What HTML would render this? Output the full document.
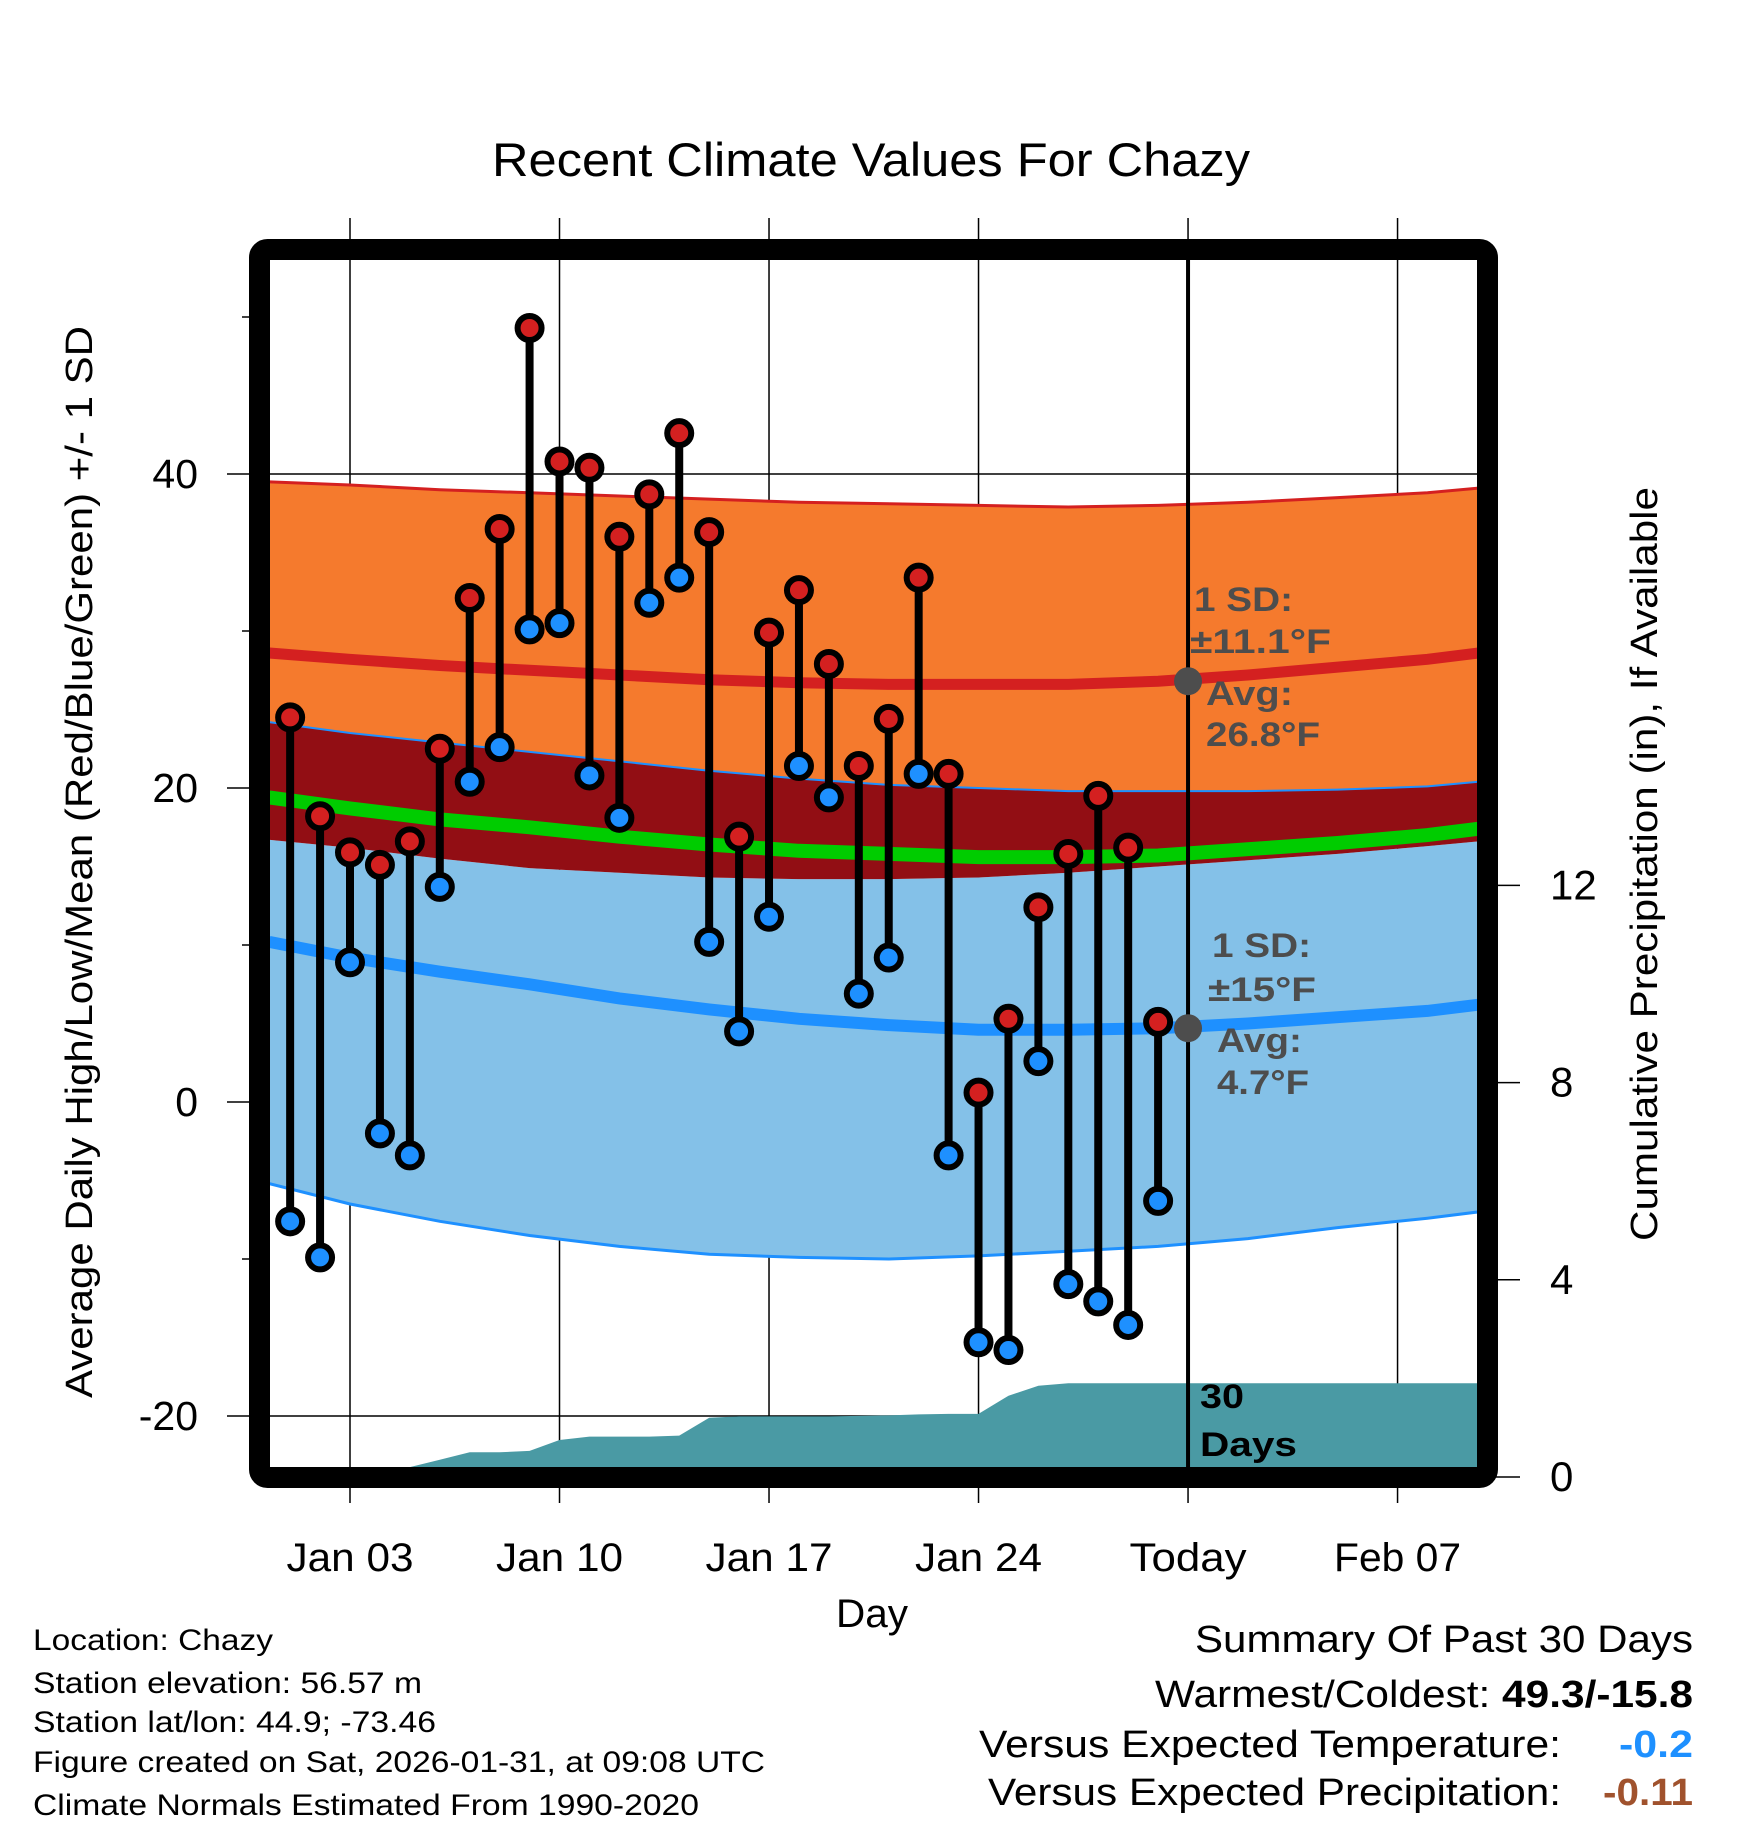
<!DOCTYPE html>
<html><head><meta charset="utf-8"><style>
body{margin:0;background:#fff}
svg{display:block;font-family:"Liberation Sans",Arial,sans-serif}
</style></head><body>
<svg id="chart" width="1748" height="1828" viewBox="0 0 1748 1828" xmlns="http://www.w3.org/2000/svg">
<defs><clipPath id="plotclip"><rect x="270" y="260" width="1207" height="1207"/></clipPath></defs>
<rect width="1748" height="1828" fill="#fff"/>
<text x="492" y="176" font-size="47" textLength="758" lengthAdjust="spacingAndGlyphs">Recent Climate Values For Chazy</text>
<g id="grid"></g>
<g id="fills" clip-path="url(#plotclip)"></g>
<g id="marks"></g>
<rect x="259.5" y="249.5" width="1228" height="1228" rx="8" fill="none" stroke="#000" stroke-width="21"/>
<g id="labels"></g>
<text transform="translate(92,1398) rotate(-90)" font-size="38" textLength="1072" lengthAdjust="spacingAndGlyphs">Average Daily High/Low/Mean (Red/Blue/Green) +/- 1 SD</text>
<text transform="translate(1657,1241) rotate(-90)" font-size="38" textLength="754" lengthAdjust="spacingAndGlyphs">Cumulative Precipitation (in), If Available</text>
<text x="836" y="1627" font-size="40" textLength="72" lengthAdjust="spacingAndGlyphs">Day</text>
<g font-size="30">
<text x="33" y="1650" textLength="240" lengthAdjust="spacingAndGlyphs">Location: Chazy</text>
<text x="33" y="1693" textLength="389" lengthAdjust="spacingAndGlyphs">Station elevation: 56.57 m</text>
<text x="33" y="1732" textLength="403" lengthAdjust="spacingAndGlyphs">Station lat/lon: 44.9; -73.46</text>
<text x="33" y="1772" textLength="732" lengthAdjust="spacingAndGlyphs">Figure created on Sat, 2026-01-31, at 09:08 UTC</text>
<text x="33" y="1815" textLength="666" lengthAdjust="spacingAndGlyphs">Climate Normals Estimated From 1990-2020</text>
</g>
<g font-size="38">
<text x="1195" y="1652" textLength="498" lengthAdjust="spacingAndGlyphs">Summary Of Past 30 Days</text>
<text x="1155" y="1707" textLength="538" lengthAdjust="spacingAndGlyphs">Warmest/Coldest: <tspan font-weight="bold">49.3/-15.8</tspan></text>
<text x="979" y="1757" textLength="582" lengthAdjust="spacingAndGlyphs">Versus Expected Temperature:</text>
<text x="1619" y="1757" font-weight="bold" fill="#1e90ff" textLength="74" lengthAdjust="spacingAndGlyphs">-0.2</text>
<text x="988" y="1805" textLength="573" lengthAdjust="spacingAndGlyphs">Versus Expected Precipitation:</text>
<text x="1603" y="1805" font-weight="bold" fill="#a0522d" textLength="90" lengthAdjust="spacingAndGlyphs">-0.11</text>
</g>
<g font-size="34" font-weight="bold" fill="#4d4d4d" lengthAdjust="spacingAndGlyphs">
<text x="1194" y="611" textLength="99" lengthAdjust="spacingAndGlyphs">1 SD:</text>
<text x="1190" y="653" textLength="141" lengthAdjust="spacingAndGlyphs">±11.1°F</text>
<text x="1206" y="705" textLength="87" lengthAdjust="spacingAndGlyphs">Avg:</text>
<text x="1206" y="746" textLength="114" lengthAdjust="spacingAndGlyphs">26.8°F</text>
<text x="1212" y="957" textLength="99" lengthAdjust="spacingAndGlyphs">1 SD:</text>
<text x="1208" y="1001" textLength="108" lengthAdjust="spacingAndGlyphs">±15°F</text>
<text x="1217" y="1052" textLength="85" lengthAdjust="spacingAndGlyphs">Avg:</text>
<text x="1217" y="1094" textLength="92" lengthAdjust="spacingAndGlyphs">4.7°F</text>
<text x="1200" y="1408" fill="#000" textLength="44" lengthAdjust="spacingAndGlyphs">30</text>
<text x="1200" y="1456" fill="#000" textLength="97" lengthAdjust="spacingAndGlyphs">Days</text>
</g>
<script>
const days = [1,2,3,4,5,6,7,8,9,10,11,12,13,14,15,16,17,18,19,20,21,22,23,24,25,26,27,28,29,30];
const highs = [24.5,18.2,15.9,15.1,16.6,22.5,32.1,36.5,49.3,40.8,40.4,36.0,38.7,42.6,36.3,16.9,29.9,32.6,27.9,21.4,24.4,33.4,20.9,0.6,5.3,12.4,15.8,19.5,16.2,5.1];
const lows = [-7.6,-9.9,8.9,-2.0,-3.4,13.7,20.4,22.6,30.1,30.5,20.8,18.1,31.8,33.4,10.2,4.5,11.8,21.4,19.4,6.9,9.2,20.9,-3.4,-15.3,-15.8,2.6,-11.6,-12.7,-14.2,-6.3];
const normDays = [0.3,3,6,9,12,15,18,21,24,27,30,33,36,39,40.7];
const highAvg = [28.6,28.2,27.8,27.5,27.2,26.9,26.7,26.6,26.6,26.6,26.8,27.2,27.7,28.2,28.6];
const highUp = [39.5,39.3,39.0,38.8,38.6,38.4,38.2,38.1,38.0,37.9,38.0,38.2,38.5,38.8,39.1];
const highLo = [24.2,23.5,22.9,22.3,21.7,21.1,20.6,20.2,20.0,19.8,19.8,19.8,19.9,20.1,20.4];
const meanAvg = [19.4,18.7,18.0,17.5,16.9,16.4,16.0,15.8,15.6,15.6,15.7,16.1,16.5,17.0,17.4];
const lowUp = [16.7,16.2,15.5,14.9,14.6,14.3,14.2,14.2,14.3,14.6,15.0,15.4,15.8,16.3,16.6];
const lowAvg = [10.2,9.2,8.3,7.5,6.6,5.9,5.3,4.9,4.6,4.6,4.7,5.0,5.4,5.8,6.2];
const lowDn = [-5.2,-6.5,-7.6,-8.5,-9.2,-9.7,-9.9,-10.0,-9.8,-9.5,-9.2,-8.7,-8.0,-7.4,-7.0];
const precipDays = [0.3,1,2,3,4,5,6,7,8,9,10,11,12,13,14,15,16,17,18,19,20,21,22,23,24,25,26,27,28,29,30,31,40.7];
const precipCum = [0,0,0,0,0,0.2,0.35,0.5,0.5,0.53,0.75,0.82,0.82,0.82,0.84,1.2,1.23,1.23,1.23,1.23,1.24,1.25,1.27,1.28,1.28,1.65,1.85,1.9,1.9,1.9,1.9,1.9,1.9];
const xTickDays = [3,10,17,24,31,38];
const xTickLabels = ["Jan 03","Jan 10","Jan 17","Jan 24","Today","Feb 07"];
const yTicks = [40,20,0,-20];
const yMinor = [50,30,10,-10];
const y2Ticks = [0,4,8,12];
const todayDay = 31;
const todayHigh = 26.8, todayLow = 4.7;

const NS="http://www.w3.org/2000/svg";
const X = d => 350 + (d-3)*29.93;
const Y = v => 1102 - v*15.7;
const Y2 = p => 1477 - p*49.3;
function el(tag, attrs, parent){const e=document.createElementNS(NS,tag);for(const k in attrs)e.setAttribute(k,attrs[k]);parent.appendChild(e);return e;}
const grid=document.getElementById('grid'), fills=document.getElementById('fills'), marks=document.getElementById('marks'), labels=document.getElementById('labels');

xTickDays.forEach((d,i)=>{
  const l=el('line',{x1:X(d),x2:X(d),y1:218,y2:1503,stroke:'#000','stroke-width':1.5},grid);
  
  
  const w = xTickLabels[i]==='Today' ? 117 : 127;
  const t=el('text',{x:X(d)-w/2,y:1571,'font-size':40,textLength:w,lengthAdjust:'spacingAndGlyphs'},labels);
  t.textContent=xTickLabels[i];
  
  
});
yTicks.forEach(v=>{
  const l=el('line',{x1:227,x2:1477,y1:Y(v),y2:Y(v),stroke:'#000','stroke-width':1.5},grid);
  
  
  const t=el('text',{x:198,y:Y(v)+14,'font-size':41,'text-anchor':'end'},labels);
  t.textContent=String(v);
  
  
});
yMinor.forEach(v=>{
  const l=el('line',{x1:242,x2:270,y1:Y(v),y2:Y(v),stroke:'#000','stroke-width':1.5},grid);
  
  
});
y2Ticks.forEach(p=>{
  const l=el('line',{x1:1487,x2:1520,y1:Y2(p),y2:Y2(p),stroke:'#000','stroke-width':1.5},grid);
  
  
  const t=el('text',{x:1550,y:Y2(p)+14,'font-size':42},labels);
  t.textContent=String(p);
  
  
});

function linePts(xs,vs,fy){return xs.map((d,i)=>X(d).toFixed(1)+','+fy(vs[i]).toFixed(1));}
function band(lo,hi,fill,name){
  const pts=linePts(normDays,hi,Y).concat(linePts(normDays,lo,Y).reverse());
  const p=el('polygon',{points:pts.join(' '),fill:fill},fills);
  
  
}
function line(vs,color,w,name){
  const p=el('polyline',{points:linePts(normDays,vs,Y).join(' '),fill:'none',stroke:color,'stroke-width':w},fills);
  
  
}
band(lowDn,lowUp,'#84c1e8','low-sd-band');
band(lowUp,highLo,'#920e14','mid-band');
band(highLo,highUp,'#f57a2d','high-sd-band');
line(highUp,'#d42020',3,'high-plus-sd-line');
line(highAvg,'#d42020',11,'avg-high-line');
line(highLo,'#1e90ff',2,'high-minus-sd-line');
line(meanAvg,'#00cc00',14,'avg-mean-line');
line(lowAvg,'#1e90ff',12,'avg-low-line');
line(lowDn,'#1e90ff',3,'low-minus-sd-line');

const pp=linePts(precipDays,precipCum,Y2);
pp.push(X(precipDays[precipDays.length-1]).toFixed(1)+',1480',X(precipDays[0]).toFixed(1)+',1480');
const pr=el('polygon',{points:pp.join(' '),fill:'#4a9aa4'},fills);



const tl=el('line',{x1:X(todayDay),x2:X(todayDay),y1:260,y2:1467,stroke:'#000','stroke-width':4},marks);



[todayHigh,todayLow].forEach(v=>{
  const c=el('circle',{cx:X(todayDay),cy:Y(v),r:14,fill:'#4d4d4d'},marks);
  
  
});

days.forEach((d,i)=>{
  const s=el('line',{x1:X(d),x2:X(d),y1:Y(highs[i]),y2:Y(lows[i]),stroke:'#000','stroke-width':8},marks);
  
  
});
days.forEach((d,i)=>{
  const h=el('circle',{cx:X(d),cy:Y(highs[i]),r:12,fill:'#d42020',stroke:'#000','stroke-width':6},marks);
  
  
  const l=el('circle',{cx:X(d),cy:Y(lows[i]),r:12,fill:'#1e90ff',stroke:'#000','stroke-width':6},marks);
  
  
});
</script>
</svg>
</body></html>
